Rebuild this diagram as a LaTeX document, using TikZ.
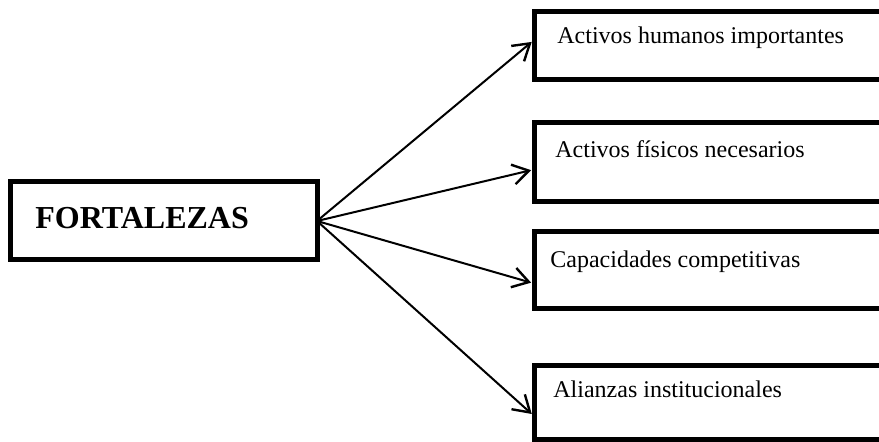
\documentclass[tikz,border=0pt]{standalone}
\usepackage{fontspec}
\setmainfont{Liberation Serif}
\usetikzlibrary{arrows.meta,positioning}

\begin{document}
\begin{tikzpicture}[
    x=0.5pt, y=-0.5pt,
    box/.style={draw, line width=2.5pt, anchor=north west, inner sep=0pt, outer sep=0pt},
    lbl/.style={anchor=base west, inner sep=0pt, font=\fontsize{12}{14}\selectfont},
    link/.style={-{Straight Barb[length=8pt,width=10pt,line width=1.2pt]}, line width=1pt, shorten >=1.5pt}
  ]
  \useasboundingbox (0,0) rectangle (879,442);
  \clip (0,0) rectangle (879,442);
  % left box
  \node[box, minimum width=153.5pt, minimum height=39pt] (fort) at (10,182) {};
  \node[lbl, font=\fontsize{16}{19}\selectfont\bfseries] (fortlbl) at (35,229) {FORTALEZAS};
  % right boxes
  \foreach \name/\lbl/\y/\h/\ty/\tx in {hum/{Activos humanos importantes}/12/34/44/557,
                                       fis/{Activos físicos necesarios}/123/39.5/158/555,
                                       cap/{Capacidades competitivas}/232/38.5/268/550,
                                       ali/{Alianzas institucionales}/366/37/398/553} {
    \node[box, minimum width=183pt, minimum height=\h pt] (\name) at (534,\y) {};
    \node[lbl] (\name lbl) at (\tx,\ty) {\lbl};
  }
  \draw[link] (fort.east) -- ([yshift=3pt]hum.west);
  \draw[link] (fort.east) -- ([yshift=-3.5pt]fis.west);
  \draw[link] (fort.east) -- ([yshift=-6.5pt]cap.west);
  \draw[link] (fort.east) -- ([yshift=-6.5pt]ali.west);
\end{tikzpicture}
\end{document}
